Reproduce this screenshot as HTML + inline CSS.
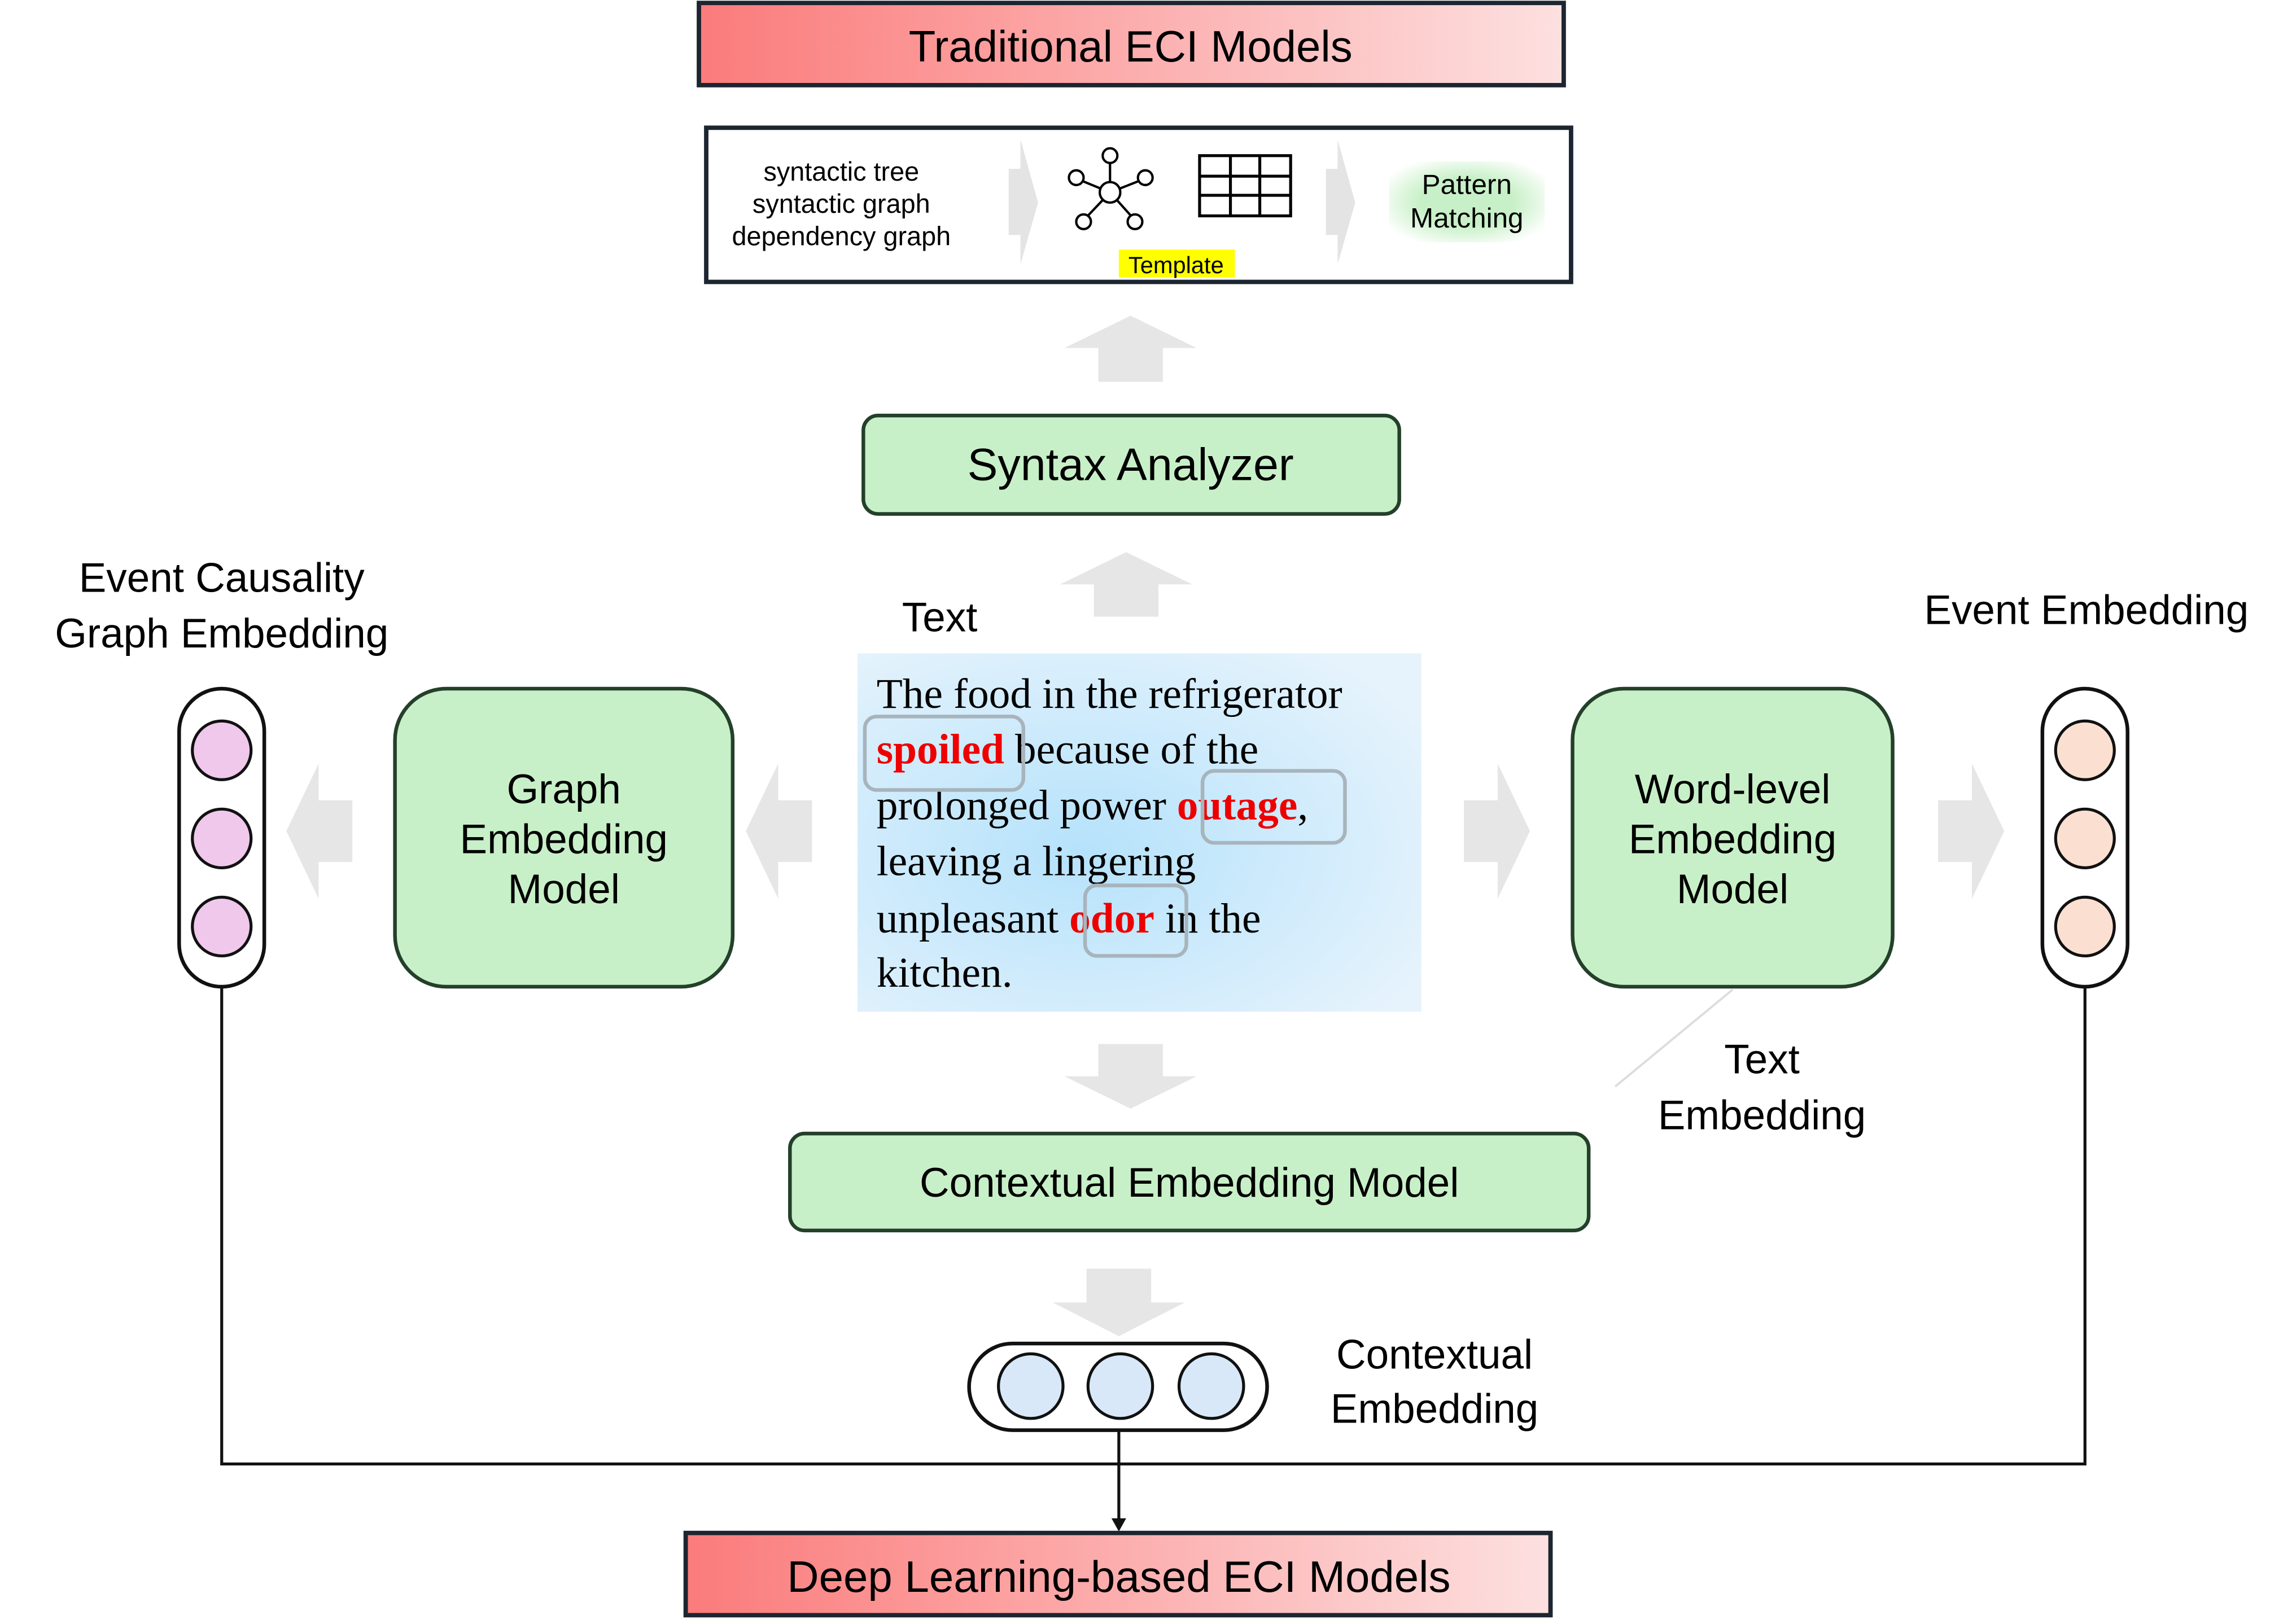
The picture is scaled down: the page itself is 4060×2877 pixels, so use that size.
<!DOCTYPE html>
<html><head><meta charset="utf-8"><style>html,body{margin:0;padding:0;background:#fff}svg{display:block}</style></head>
<body>
<svg xmlns="http://www.w3.org/2000/svg" width="4060" height="2877" viewBox="0 0 1561 1106" preserveAspectRatio="none" font-family="Liberation Sans, sans-serif">
<defs>
<linearGradient id="rg" x1="0" x2="1" y1="0" y2="0"><stop offset="0" stop-color="#fb7b7b"/><stop offset="1" stop-color="#fde0e0"/></linearGradient>
<radialGradient id="bg" cx="0.4" cy="0.55" r="0.7"><stop offset="0" stop-color="#b5e2fb"/><stop offset="1" stop-color="#e6f3fc"/></radialGradient>
<radialGradient id="gg" cx="0.5" cy="0.5" r="0.6"><stop offset="0.5" stop-color="#c8f0c8"/><stop offset="1" stop-color="#ffffff"/></radialGradient>
</defs>
<rect x="476" y="2" width="589" height="56" fill="url(#rg)" stroke="#1c2530" stroke-width="3"/>
<text x="770" y="42" font-size="30" text-anchor="middle">Traditional ECI Models</text>
<rect x="481" y="87" width="589" height="105" fill="#fff" stroke="#1c2530" stroke-width="3"/>
<g font-size="18" text-anchor="middle"><text x="573" y="123">syntactic tree</text><text x="573" y="145">syntactic graph</text><text x="573" y="167">dependency graph</text></g>
<polygon points="687,115 695,115 695,95 707,138 695,180 695,160 687,160" fill="#e4e4e4"/>
<polygon points="903,115 911,115 911,95 923,138 911,180 911,160 903,160" fill="#e4e4e4"/>
<g stroke="#000" stroke-width="1.6" fill="#fff">
<line x1="756" y1="131" x2="756" y2="108"/><line x1="756" y1="131" x2="734" y2="122"/><line x1="756" y1="131" x2="779" y2="122"/><line x1="756" y1="131" x2="738" y2="150"/><line x1="756" y1="131" x2="773" y2="150"/>
<circle cx="756" cy="131" r="7"/><circle cx="756" cy="106" r="5"/><circle cx="733" cy="121" r="5"/><circle cx="780" cy="121" r="5"/><circle cx="738" cy="151" r="5"/><circle cx="773" cy="151" r="5"/>
</g>
<g stroke="#000" stroke-width="2" fill="none"><rect x="817" y="106" width="62" height="41"/><line x1="817" y1="120" x2="879" y2="120"/><line x1="817" y1="133" x2="879" y2="133"/><line x1="838" y1="106" x2="838" y2="147"/><line x1="858" y1="106" x2="858" y2="147"/></g>
<rect x="762" y="170" width="79" height="19" fill="#ffff00"/>
<text x="801" y="186" font-size="16" text-anchor="middle">Template</text>
<rect x="946" y="110" width="106" height="55" fill="url(#gg)"/>
<g font-size="19" text-anchor="middle"><text x="999" y="132">Pattern</text><text x="999" y="155">Matching</text></g>
<polygon points="748,260 792,260 792,237 815,237 770,215 725,237 748,237" fill="#e6e6e6"/>
<rect x="588" y="283" width="365" height="67" rx="10" fill="#c8f0c8" stroke="#24402a" stroke-width="2.5"/>
<text x="770" y="327" font-size="31" text-anchor="middle">Syntax Analyzer</text>
<polygon points="745,420 789,420 789,398 812,398 767,376 722,398 745,398" fill="#e6e6e6"/>
<text x="640" y="430" font-size="28" text-anchor="middle">Text</text>
<rect x="584" y="445" width="384" height="244" fill="url(#bg)"/>
<g font-family="Liberation Serif, serif" font-size="29">
<text x="597" y="482">The food in the refrigerator</text>
<text x="597" y="520"><tspan fill="#e00" font-weight="bold">spoiled</tspan> because of the</text>
<text x="597" y="558">prolonged power <tspan fill="#e00" font-weight="bold">outage</tspan>,</text>
<text x="597" y="596">leaving a lingering</text>
<text x="597" y="635">unpleasant <tspan fill="#e00" font-weight="bold">odor</tspan> in the</text>
<text x="597" y="672">kitchen.</text>
</g>
<g fill="none" stroke="#a8b4bc" stroke-width="2.5"><rect x="589" y="488" width="108" height="50" rx="8"/><rect x="819" y="525" width="97" height="49" rx="8"/><rect x="739" y="603" width="69" height="48" rx="8"/></g>
<rect x="269" y="469" width="230" height="203" rx="35" fill="#c8f0c8" stroke="#24402a" stroke-width="2.5"/>
<g font-size="28" text-anchor="middle"><text x="384" y="547">Graph</text><text x="384" y="581">Embedding</text><text x="384" y="615">Model</text></g>
<rect x="1071" y="469" width="218" height="203" rx="35" fill="#c8f0c8" stroke="#24402a" stroke-width="2.5"/>
<g font-size="28" text-anchor="middle"><text x="1180" y="547">Word-level</text><text x="1180" y="581">Embedding</text><text x="1180" y="615">Model</text></g>
<polygon points="553,545 530,545 530,520 508,566 530,612 530,587 553,587" fill="#e6e6e6"/>
<polygon points="240,545 217,545 217,520 195,566 217,612 217,587 240,587" fill="#e6e6e6"/>
<polygon points="997,545 1020,545 1020,520 1042,566 1020,612 1020,587 997,587" fill="#e6e6e6"/>
<polygon points="1320,545 1343,545 1343,520 1365,566 1343,612 1343,587 1320,587" fill="#e6e6e6"/>
<g font-size="28" text-anchor="middle"><text x="151" y="403">Event Causality</text><text x="151" y="441">Graph Embedding</text><text x="1421" y="425">Event Embedding</text>
<text x="1200" y="731">Text</text><text x="1200" y="769">Embedding</text><text x="977" y="932">Contextual</text><text x="977" y="969">Embedding</text></g>
<rect x="122" y="469" width="58" height="203" rx="29" fill="#fff" stroke="#111" stroke-width="2.5"/>
<g fill="#f0c8ec" stroke="#111" stroke-width="2"><circle cx="151" cy="511" r="20"/><circle cx="151" cy="571" r="20"/><circle cx="151" cy="631" r="20"/></g>
<rect x="1391" y="469" width="58" height="203" rx="29" fill="#fff" stroke="#111" stroke-width="2.5"/>
<g fill="#fbe0d2" stroke="#111" stroke-width="2"><circle cx="1420" cy="511" r="20"/><circle cx="1420" cy="571" r="20"/><circle cx="1420" cy="631" r="20"/></g>
<line x1="1180" y1="674" x2="1100" y2="740" stroke="#ddd" stroke-width="1.5"/>
<polygon points="748,711 792,711 792,733 815,733 770,755 725,733 748,733" fill="#e6e6e6"/>
<rect x="538" y="772" width="544" height="66" rx="10" fill="#c8f0c8" stroke="#24402a" stroke-width="2.5"/>
<text x="810" y="815" font-size="28" text-anchor="middle">Contextual Embedding Model</text>
<polygon points="740,864 784,864 784,887 807,887 762,910 717,887 740,887" fill="#e6e6e6"/>
<rect x="660" y="915" width="203" height="59" rx="29.5" fill="#fff" stroke="#111" stroke-width="2.5"/>
<g fill="#d8e8f8" stroke="#111" stroke-width="2"><circle cx="702" cy="944" r="22"/><circle cx="763" cy="944" r="22"/><circle cx="825" cy="944" r="22"/></g>
<polyline points="151,672 151,997 1420,997 1420,672" fill="none" stroke="#111" stroke-width="2"/>
<line x1="762" y1="974" x2="762" y2="1035" stroke="#111" stroke-width="2"/>
<polygon points="757,1034 767,1034 762,1043" fill="#111"/>
<rect x="467" y="1044" width="589" height="56" fill="url(#rg)" stroke="#1c2530" stroke-width="3"/>
<text x="762" y="1084" font-size="30" text-anchor="middle">Deep Learning-based ECI Models</text>
</svg>
</body></html>
